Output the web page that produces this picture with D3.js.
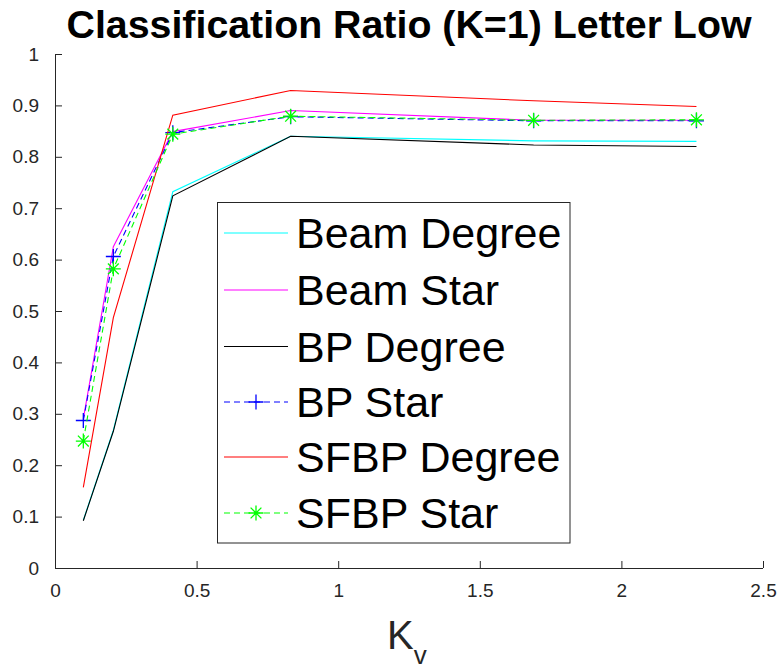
<!DOCTYPE html>
<html>
<head>
<meta charset="utf-8">
<script src="https://cdn.jsdelivr.net/npm/d3@7"></script>
<style>
  html, body { margin: 0; padding: 0; background: #fff; }
  svg { display: block; font-family: "Liberation Sans", Arial, Helvetica, sans-serif; }
</style>
</head>
<body>
<svg id="chart" width="778" height="670"></svg>
<script>
const xValues = [0.1, 0.206, 0.416, 0.832, 1.69, 2.265];
const beamDegree = [0.093, 0.268, 0.732, 0.840, 0.831, 0.830];
const beamStar   = [0.290, 0.625, 0.849, 0.890, 0.871, 0.871];
const bpDegree   = [0.092, 0.266, 0.724, 0.840, 0.823, 0.820];
const bpStar     = [0.287, 0.606, 0.847, 0.878, 0.870, 0.870];
const sfbpDegree = [0.157, 0.487, 0.881, 0.929, 0.909, 0.898];
const sfbpStar   = [0.247, 0.582, 0.844, 0.879, 0.871, 0.872];
const seriesNames = ["Beam Degree", "Beam Star", "BP Degree", "BP Star", "SFBP Degree", "SFBP Star"];
const xTicks = [0, 0.5, 1, 1.5, 2, 2.5];
const yTicks = [0, 0.1, 0.2, 0.3, 0.4, 0.5, 0.6, 0.7, 0.8, 0.9, 1];
const titleText = "Classification Ratio (K=1) Letter Low";

(function () {
const series = [
  { name: seriesNames[0], values: beamDegree, color: "#00ffff", dash: null, marker: null },
  { name: seriesNames[1], values: beamStar,   color: "#ff00ff", dash: null, marker: null },
  { name: seriesNames[2], values: bpDegree,   color: "#000000", dash: null, marker: null },
  { name: seriesNames[3], values: bpStar,     color: "#0000ff", dash: "6,4", marker: "plus" },
  { name: seriesNames[4], values: sfbpDegree, color: "#ff0000", dash: null, marker: null },
  { name: seriesNames[5], values: sfbpStar,   color: "#00ff00", dash: "6,4", marker: "star" }
];

const svg = d3.select("#chart");
const pLeft = 55, pRight = 763, pTop = 54, pBottom = 568;
const axisColor = "#262626";

const x = d3.scaleLinear().domain([0, 2.5]).range([pLeft, pRight]);
const y = d3.scaleLinear().domain([0, 1]).range([pBottom, pTop]);

// Title
svg.append("text")
  .attr("x", (pLeft + pRight) / 2).attr("y", 38)
  .attr("text-anchor", "middle")
  .attr("font-size", 38).attr("font-weight", "bold")
  .attr("textLength", 685).attr("lengthAdjust", "spacingAndGlyphs")
  .attr("fill", "#000")
  .text(titleText);

// Axes
const xAxis = d3.axisBottom(x).tickValues(xTicks).tickSize(-7).tickPadding(16)
  .tickFormat(d3.format("~g"));
const yAxis = d3.axisLeft(y).tickValues(yTicks).tickSize(-7).tickPadding(16)
  .tickFormat(d3.format("~g"));

const gx = svg.append("g").attr("transform", `translate(0,${pBottom})`).call(xAxis);
const gy = svg.append("g").attr("transform", `translate(${pLeft},0)`).call(yAxis);
[gx, gy].forEach(g => {
  g.select(".domain").attr("stroke", axisColor).attr("stroke-width", 1);
  g.selectAll(".tick line").attr("stroke", axisColor).attr("stroke-width", 1);
  g.selectAll(".tick text").attr("fill", axisColor)
    .attr("font-size", 19).attr("font-family", "Liberation Sans, Arial, sans-serif");
});
gy.select(".domain").attr("d", `M0.5,${pBottom}V${pTop}`);
gx.select(".domain").attr("d", `M${pLeft},0.5H${pRight}`);
gx.selectAll(".tick text").attr("dy", "0.71em");

// X label
const xl = svg.append("text")
  .attr("x", 387).attr("y", 649)
  .attr("fill", axisColor)
  .attr("font-size", 40);
xl.append("tspan").text("K");
xl.append("tspan").attr("font-size", 26).attr("dy", 15).text("v");

// Lines
const line = d3.line().x((d, i) => x(xValues[i])).y(d => y(d));
const plotG = svg.append("g");

function drawMarker(g, type, cx, cy, color, size) {
  const h = size / 2;
  if (type === "plus") {
    g.append("path").attr("d", `M${cx - h},${cy}H${cx + h}M${cx},${cy - h}V${cy + h}`)
      .attr("stroke", color).attr("stroke-width", 1.3).attr("fill", "none");
  } else if (type === "star") {
    const d = h * 0.72;
    g.append("path").attr("d",
      `M${cx - h},${cy}H${cx + h}M${cx},${cy - h}V${cy + h}M${cx - d},${cy - d}L${cx + d},${cy + d}M${cx - d},${cy + d}L${cx + d},${cy - d}`)
      .attr("stroke", color).attr("stroke-width", 1.3).attr("fill", "none");
  }
}

series.forEach(s => {
  plotG.append("path")
    .datum(s.values)
    .attr("d", line)
    .attr("fill", "none")
    .attr("stroke", s.color)
    .attr("stroke-width", 1.1)
    .attr("stroke-dasharray", s.dash);
  if (s.marker) {
    s.values.forEach((v, i) => drawMarker(plotG, s.marker, x(xValues[i]), y(v), s.color, 15));
  }
});

// Legend
const lgX = 217.5, lgY = 202.5, lgW = 352.5, lgH = 340.5;
const lg = svg.append("g");
lg.append("rect").attr("x", lgX).attr("y", lgY).attr("width", lgW).attr("height", lgH)
  .attr("fill", "#fff").attr("stroke", axisColor).attr("stroke-width", 1);
const rowY = [233, 290, 346.5, 402, 457, 513];
series.forEach((s, i) => {
  const yy = rowY[i];
  lg.append("line").attr("x1", 224).attr("x2", 288).attr("y1", yy).attr("y2", yy)
    .attr("stroke", s.color).attr("stroke-width", 1.1)
    .attr("stroke-dasharray", s.dash);
  if (s.marker) drawMarker(lg, s.marker, 256, yy, s.color, 15);
  lg.append("text").attr("x", 296).attr("y", yy).attr("dy", "0.36em")
    .attr("font-size", 43).attr("fill", "#000").text(s.name);
});
})();
</script>
</body>
</html>
